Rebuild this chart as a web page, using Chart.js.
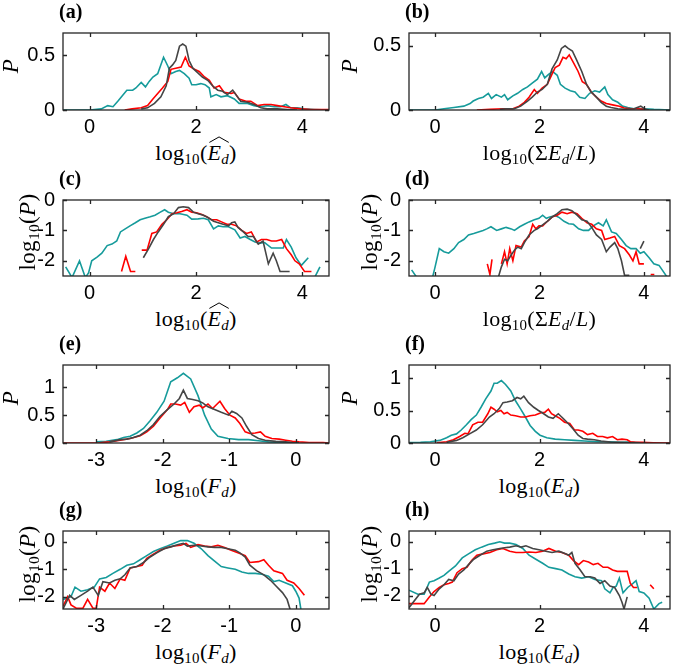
<!DOCTYPE html>
<html lang="en">
<head>
  <meta charset="UTF-8" />
  <title>Distributions</title>
  <script src="https://cdn.jsdelivr.net/npm/chart.js"></script>
  <style>
    body { margin: 0; background: #fff; }
    #page { position: relative; width: 675px; height: 665px; overflow: hidden; }
    canvas { position: absolute; }
    .lbl { position: absolute; font-family: 'Liberation Serif', 'DejaVu Serif', serif; color: #000; white-space: nowrap; line-height: 1; }
    .tag { font-weight: bold; font-size: 20px; }
    .xt { font-size: 22px; transform: translateX(-50%); letter-spacing: 0.3px; }
    .yt { font-size: 23px; transform: translate(-50%, -50%) rotate(-90deg); letter-spacing: 0.3px; }
    sub { font-size: 0.68em; vertical-align: -0.3em; line-height: 0; }
    .hat { position: relative; display: inline-block; }
    .hat svg { position: absolute; left: 1px; top: -6px; width: 100%; height: 7px; }
  </style>
</head>
<body>
<div id="page"></div>

<script>
  // ---- data: [x, y] pairs, null = gap ----
  const aTeal = [[-0.5,0],[0,0],[0.22,0.01],[0.34,0.04],[0.44,0.03],[0.53,0.08],[0.7,0.18],[0.81,0.18],[0.87,0.2],[0.97,0.25],[1.05,0.21],[1.12,0.26],[1.19,0.3],[1.28,0.33],[1.39,0.48],[1.47,0.4],[1.53,0.33],[1.62,0.35],[1.69,0.36],[1.78,0.33],[1.87,0.29],[1.92,0.23],[2.0,0.23],[2.09,0.24],[2.17,0.23],[2.25,0.2],[2.28,0.12],[2.38,0.14],[2.47,0.12],[2.59,0.13],[2.72,0.1],[2.81,0.06],[2.97,0.06],[3.09,0.04],[3.22,0.03],[3.34,0.04],[3.47,0.03],[3.59,0.03],[3.69,0.05],[3.78,0.02],[3.9,0.02],[4.03,0.01],[4.22,0.005],[4.5,0]];
  const aRed = [[0.66,0],[0.8,0.01],[0.97,0.02],[1.09,0.04],[1.19,0.1],[1.28,0.15],[1.37,0.2],[1.47,0.26],[1.53,0.37],[1.62,0.38],[1.72,0.39],[1.8,0.48],[1.87,0.4],[1.97,0.37],[2.06,0.35],[2.16,0.3],[2.25,0.27],[2.34,0.2],[2.44,0.22],[2.53,0.16],[2.66,0.15],[2.72,0.16],[2.81,0.1],[2.94,0.08],[3.03,0.08],[3.16,0.04],[3.28,0.05],[3.41,0.05],[3.53,0.04],[3.66,0.03],[3.78,0.02],[3.97,0.01],[4.16,0.005],[4.5,0.005]];
  const aGray = [[0.97,0.01],[1.09,0.02],[1.22,0.06],[1.34,0.12],[1.44,0.22],[1.5,0.38],[1.56,0.41],[1.62,0.45],[1.69,0.58],[1.75,0.6],[1.81,0.58],[1.87,0.45],[1.94,0.38],[2.03,0.34],[2.12,0.3],[2.22,0.27],[2.31,0.22],[2.41,0.18],[2.5,0.17],[2.59,0.14],[2.69,0.18],[2.75,0.14],[2.84,0.08],[2.97,0.07],[3.09,0.05],[3.22,0.02],[3.34,0.01],[3.53,0.01],[3.72,0.005],[3.9,0]];

  const bTeal = [[-0.5,0],[0,0],[0.17,0.01],[0.36,0.02],[0.55,0.03],[0.67,0.05],[0.73,0.07],[0.83,0.09],[0.92,0.1],[1.02,0.13],[1.08,0.09],[1.17,0.12],[1.27,0.1],[1.33,0.12],[1.39,0.08],[1.49,0.11],[1.58,0.13],[1.68,0.16],[1.77,0.18],[1.86,0.21],[1.96,0.24],[2.04,0.3],[2.1,0.25],[2.18,0.28],[2.25,0.3],[2.34,0.27],[2.4,0.2],[2.49,0.17],[2.59,0.15],[2.68,0.14],[2.77,0.1],[2.87,0.09],[2.96,0.13],[3.06,0.15],[3.15,0.14],[3.25,0.18],[3.31,0.12],[3.4,0.08],[3.5,0.06],[3.59,0.03],[3.69,0.02],[3.81,0.01],[4.0,0.01],[4.19,0.005],[4.5,0]];
  const bRed = [[0.8,0],[1.05,0.005],[1.3,0.01],[1.49,0.01],[1.61,0.03],[1.71,0.06],[1.8,0.1],[1.9,0.16],[1.96,0.13],[2.05,0.17],[2.15,0.2],[2.24,0.28],[2.3,0.33],[2.38,0.35],[2.45,0.41],[2.51,0.4],[2.57,0.43],[2.65,0.37],[2.74,0.3],[2.82,0.22],[2.9,0.2],[2.99,0.14],[3.09,0.1],[3.18,0.07],[3.28,0.05],[3.4,0.04],[3.53,0.03],[3.62,0.015],[3.75,0.01],[3.87,0.01],[4.0,0.005],[4.1,0]];
  const bGray = [[1.24,0.005],[1.36,0.01],[1.52,0.01],[1.64,0.03],[1.77,0.07],[1.86,0.1],[1.96,0.14],[2.05,0.16],[2.15,0.2],[2.24,0.32],[2.34,0.39],[2.42,0.48],[2.49,0.5],[2.55,0.48],[2.63,0.46],[2.71,0.39],[2.81,0.3],[2.9,0.2],[2.99,0.14],[3.09,0.1],[3.18,0.06],[3.28,0.03],[3.37,0.02],[3.5,0.01],[3.62,0.005],[3.81,0.01],[3.94,0.03],[4.03,0.005],[4.1,0]];

  const cTeal = [[-0.45,-2.2],[-0.33,-2.55],[-0.19,-2.0],[-0.08,-2.55],[-0.02,-2.4],[0.04,-2.0],[0.14,-1.88],[0.23,-1.75],[0.33,-1.5],[0.42,-1.45],[0.51,-1.35],[0.58,-1.05],[0.67,-0.95],[0.76,-0.85],[0.86,-0.75],[0.95,-0.65],[1.04,-0.6],[1.14,-0.55],[1.23,-0.5],[1.33,-0.4],[1.41,-0.32],[1.48,-0.4],[1.58,-0.45],[1.7,-0.45],[1.83,-0.5],[1.92,-0.63],[2.04,-0.62],[2.14,-0.6],[2.23,-0.65],[2.33,-0.95],[2.42,-0.85],[2.51,-0.88],[2.61,-0.88],[2.73,-0.98],[2.83,-1.25],[2.92,-1.2],[3.02,-1.3],[3.11,-1.38],[3.2,-1.42],[3.29,-1.4],[3.42,-1.58],[3.54,-1.58],[3.64,-1.58],[3.7,-1.3],[3.79,-1.55],[3.88,-1.9],[3.98,-2.15],[4.11,-1.9],[4.17,null],[4.23,-2.55],[4.33,-2.2]];
  const cRed = [[0.6,-2.35],[0.68,-1.85],[0.77,-2.35],[0.86,-2.35],[0.92,null],[0.98,-1.65],[1.08,-1.65],[1.17,-1.1],[1.26,-1.05],[1.36,-0.8],[1.45,-0.65],[1.55,-0.45],[1.64,-0.42],[1.73,-0.38],[1.83,-0.32],[1.92,-0.4],[2.01,-0.42],[2.11,-0.48],[2.2,-0.55],[2.29,-0.65],[2.39,-0.65],[2.48,-0.72],[2.58,-0.8],[2.67,-0.8],[2.76,-0.85],[2.86,-1.0],[2.95,-1.1],[3.04,-1.05],[3.14,-1.38],[3.23,-1.3],[3.33,-1.3],[3.42,-1.35],[3.51,-1.35],[3.61,-1.3],[3.7,-1.6],[3.79,-1.8],[3.86,-2.0],[3.94,-2.1],[3.98,-2.2],[4.04,-2.35],[4.17,-2.35]];
  const cGray = [[1.01,-1.9],[1.11,-1.6],[1.2,-1.3],[1.29,-1.05],[1.39,-0.8],[1.48,-0.55],[1.58,-0.45],[1.67,-0.25],[1.76,-0.22],[1.86,-0.25],[1.95,-0.4],[2.04,-0.45],[2.14,-0.5],[2.23,-0.58],[2.33,-0.7],[2.42,-0.75],[2.51,-0.8],[2.61,-0.85],[2.67,-0.75],[2.73,-0.72],[2.79,-0.9],[2.89,-1.05],[2.98,-1.2],[3.08,-1.2],[3.17,-1.45],[3.26,-1.35],[3.36,-2.1],[3.45,-1.75],[3.51,-2.0],[3.58,-2.35],[3.67,-2.35],[3.76,-2.35]];

  const dTeal = [[-0.45,-2.3],[-0.35,-2.55],[-0.2,null],[-0.05,-2.55],[0,-2.2],[0.08,-1.6],[0.17,-1.7],[0.26,-1.75],[0.36,-1.6],[0.45,-1.4],[0.55,-1.3],[0.64,-1.15],[0.74,-1.1],[0.83,-1.05],[0.92,-1.0],[0.99,-0.95],[1.07,-0.88],[1.18,-1.0],[1.27,-0.95],[1.36,-0.9],[1.46,-0.95],[1.52,-1.0],[1.62,-0.88],[1.71,-0.8],[1.8,-0.72],[1.9,-0.65],[1.99,-0.6],[2.06,-0.5],[2.13,-0.6],[2.21,-0.55],[2.31,-0.52],[2.38,-0.58],[2.47,-0.7],[2.56,-0.78],[2.65,-0.8],[2.75,-0.95],[2.84,-1.0],[2.94,-1.0],[3.03,-0.85],[3.13,-0.75],[3.22,-0.85],[3.28,-0.65],[3.38,-1.05],[3.47,-1.1],[3.57,-1.3],[3.66,-1.5],[3.75,-1.6],[3.85,-1.6],[3.93,-1.75],[4.0,-1.7],[4.1,-1.9],[4.19,-2.1],[4.29,-2.15],[4.35,-2.3],[4.45,-2.55]];
  const dRed = [[1.0,-2.1],[1.05,-2.45],[1.09,-1.95],[1.15,null],[1.27,-2.1],[1.33,-1.7],[1.38,-2.1],[1.43,-1.6],[1.49,-2.0],[1.55,-1.5],[1.65,-1.55],[1.71,-1.35],[1.8,-1.2],[1.87,-0.8],[1.93,-0.95],[1.99,-0.85],[2.06,-0.85],[2.15,-0.7],[2.25,-0.55],[2.34,-0.5],[2.43,-0.4],[2.53,-0.45],[2.62,-0.4],[2.72,-0.45],[2.81,-0.6],[2.91,-0.75],[3.0,-0.8],[3.09,-0.95],[3.19,-1.0],[3.25,-1.3],[3.35,-1.25],[3.44,-1.2],[3.53,-1.5],[3.63,-1.6],[3.72,-1.8],[3.79,-2.0],[3.85,-1.7],[3.91,-2.1],[4.0,-2.1],[4.06,null],[4.13,-2.45],[4.2,-2.45]];
  const dGray = [[1.21,-2.55],[1.27,-2.2],[1.33,-1.95],[1.39,-2.0],[1.46,-1.8],[1.52,-1.65],[1.58,-1.55],[1.65,-1.6],[1.71,-1.4],[1.8,-1.15],[1.9,-1.0],[1.96,-0.95],[2.06,-0.82],[2.15,-0.7],[2.25,-0.55],[2.34,-0.45],[2.43,-0.32],[2.53,-0.3],[2.62,-0.35],[2.72,-0.5],[2.81,-0.65],[2.91,-0.7],[3.0,-0.9],[3.09,-1.15],[3.19,-1.3],[3.28,-1.7],[3.35,-1.55],[3.44,-1.4],[3.5,-1.6],[3.57,-2.0],[3.63,-2.48],[3.72,-2.48],[3.8,null],[3.93,-1.6],[4.0,-1.35]];

  const eTeal = [[-3.0,0.02],[-2.85,0.03],[-2.69,0.06],[-2.59,0.1],[-2.49,0.12],[-2.39,0.18],[-2.29,0.26],[-2.19,0.4],[-2.09,0.55],[-1.98,0.75],[-1.88,1.1],[-1.78,1.17],[-1.69,1.25],[-1.58,1.15],[-1.47,0.85],[-1.37,0.5],[-1.27,0.25],[-1.17,0.12],[-1.02,0.08],[-0.86,0.06],[-0.71,0.06],[-0.56,0.04],[-0.41,0.02],[-0.25,0.01],[-0.1,0.005],[0,0]];
  const eRed = [[-3.5,0],[-2.95,0.005],[-2.8,0.02],[-2.64,0.05],[-2.49,0.08],[-2.34,0.13],[-2.24,0.2],[-2.14,0.3],[-2.04,0.45],[-1.93,0.6],[-1.88,0.7],[-1.81,0.7],[-1.73,0.68],[-1.67,0.73],[-1.6,0.55],[-1.53,0.65],[-1.45,0.68],[-1.4,0.63],[-1.32,0.7],[-1.25,0.62],[-1.14,0.75],[-1.07,0.62],[-0.99,0.5],[-0.91,0.45],[-0.84,0.35],[-0.76,0.2],[-0.69,0.17],[-0.61,0.18],[-0.53,0.2],[-0.46,0.12],[-0.36,0.08],[-0.25,0.07],[-0.15,0.05],[-0.05,0.03],[0.05,0.02],[0.2,0.01],[0.41,0.01],[0.5,0]];
  const eGray = [[-2.8,0.02],[-2.64,0.06],[-2.54,0.07],[-2.44,0.1],[-2.34,0.14],[-2.24,0.22],[-2.14,0.33],[-2.04,0.48],[-1.93,0.6],[-1.83,0.7],[-1.75,0.8],[-1.69,0.95],[-1.63,0.8],[-1.55,0.78],[-1.47,0.76],[-1.4,0.72],[-1.32,0.65],[-1.22,0.6],[-1.12,0.55],[-1.01,0.5],[-0.96,0.57],[-0.89,0.53],[-0.81,0.45],[-0.74,0.3],[-0.66,0.15],[-0.56,0.08],[-0.46,0.05],[-0.3,0.03],[-0.15,0.02],[-0.05,0.01],[0.05,0.005]];

  const fTeal = [[-0.5,0.005],[-0.28,0.01],[-0.09,0.02],[0.09,0.04],[0.22,0.08],[0.31,0.12],[0.41,0.14],[0.5,0.2],[0.6,0.28],[0.69,0.36],[0.79,0.43],[0.88,0.55],[0.97,0.68],[1.07,0.8],[1.13,0.92],[1.19,0.92],[1.27,0.96],[1.35,0.9],[1.45,0.8],[1.54,0.65],[1.64,0.52],[1.73,0.4],[1.82,0.27],[1.92,0.18],[2.01,0.12],[2.14,0.08],[2.3,0.06],[2.48,0.05],[2.67,0.04],[2.86,0.03],[3.11,0.02],[3.36,0.02],[3.55,0.01],[3.68,0.015],[3.8,0.01],[3.93,0.005]];
  const fRed = [[0.03,0.005],[0.22,0.02],[0.35,0.05],[0.47,0.1],[0.57,0.15],[0.63,0.14],[0.72,0.28],[0.82,0.32],[0.91,0.32],[1.01,0.45],[1.07,0.55],[1.13,0.52],[1.19,0.48],[1.26,0.5],[1.32,0.45],[1.38,0.47],[1.45,0.43],[1.54,0.42],[1.64,0.4],[1.73,0.4],[1.82,0.42],[1.92,0.43],[1.98,0.45],[2.04,0.47],[2.1,0.47],[2.17,0.52],[2.23,0.45],[2.3,0.42],[2.39,0.38],[2.48,0.32],[2.58,0.3],[2.67,0.2],[2.74,0.2],[2.83,0.18],[2.92,0.13],[3.02,0.15],[3.11,0.1],[3.21,0.1],[3.3,0.08],[3.4,0.1],[3.49,0.05],[3.58,0.06],[3.68,0.05],[3.74,0.02],[3.84,0.01],[3.96,0.01],[4.18,0.005],[4.5,0]];
  const fGray = [[0.22,0.01],[0.41,0.04],[0.53,0.08],[0.66,0.14],[0.79,0.2],[0.91,0.28],[1.04,0.4],[1.13,0.45],[1.23,0.53],[1.3,0.62],[1.38,0.63],[1.48,0.65],[1.57,0.7],[1.64,0.68],[1.7,0.72],[1.79,0.62],[1.89,0.55],[1.98,0.5],[2.08,0.45],[2.17,0.4],[2.26,0.38],[2.36,0.45],[2.45,0.38],[2.55,0.3],[2.64,0.22],[2.74,0.12],[2.83,0.07],[2.92,0.06],[3.05,0.05],[3.18,0.03],[3.36,0.015],[3.55,0.01],[3.74,0.005],[3.93,0]];

  const gTeal = [[-3.5,-2.1],[-3.43,-2.05],[-3.38,-2.0],[-3.32,-1.65],[-3.23,-1.8],[-3.13,-1.75],[-3.03,-1.65],[-2.95,-1.35],[-2.85,-1.3],[-2.75,-1.15],[-2.64,-1.0],[-2.54,-0.85],[-2.44,-0.8],[-2.34,-0.65],[-2.24,-0.5],[-2.14,-0.35],[-2.04,-0.25],[-1.93,-0.15],[-1.83,-0.05],[-1.73,0.05],[-1.63,0.05],[-1.53,-0.05],[-1.42,-0.25],[-1.32,-0.5],[-1.22,-0.7],[-1.12,-0.9],[-1.02,-0.95],[-0.91,-1.0],[-0.81,-1.1],[-0.71,-1.15],[-0.61,-1.15],[-0.51,-1.18],[-0.41,-1.25],[-0.33,-1.45],[-0.25,-1.4],[-0.15,-1.5],[-0.05,-1.6],[0,-1.8],[0.05,-2.05],[0.08,-2.5]];
  const gRed = [[-3.5,-2.35],[-3.43,-2.0],[-3.38,-2.3],[-3.3,-2.42],[-3.2,-2.42],[-3.13,-2.1],[-3.05,-2.42],[-3.0,-2.42],[-2.95,-1.65],[-2.87,-1.8],[-2.8,-1.5],[-2.72,-1.7],[-2.64,-1.35],[-2.57,-1.4],[-2.49,-0.95],[-2.39,-0.9],[-2.31,-0.85],[-2.24,-0.6],[-2.14,-0.45],[-2.04,-0.3],[-1.93,-0.2],[-1.83,-0.15],[-1.73,-0.12],[-1.65,-0.05],[-1.58,-0.2],[-1.47,-0.1],[-1.37,-0.15],[-1.27,-0.18],[-1.17,-0.12],[-1.07,-0.2],[-0.97,-0.3],[-0.86,-0.4],[-0.76,-0.5],[-0.69,-0.75],[-0.56,-0.72],[-0.48,-0.65],[-0.41,-0.85],[-0.33,-1.05],[-0.2,-1.15],[-0.13,-1.4],[-0.03,-1.5],[0.05,-1.7],[0.13,-1.95]];
  const gGray = [[-3.5,-2.45],[-3.4,-1.95],[-3.33,-2.1],[-3.23,-1.95],[-3.13,-1.8],[-3.05,-1.65],[-2.97,-1.95],[-2.9,-1.45],[-2.8,-1.5],[-2.72,-1.4],[-2.64,-1.35],[-2.57,-1.2],[-2.49,-0.95],[-2.39,-0.9],[-2.29,-0.75],[-2.19,-0.55],[-2.09,-0.4],[-1.98,-0.25],[-1.88,-0.18],[-1.78,-0.1],[-1.69,-0.05],[-1.63,-0.15],[-1.53,-0.12],[-1.42,-0.15],[-1.32,-0.18],[-1.22,-0.2],[-1.12,-0.2],[-1.02,-0.25],[-0.91,-0.3],[-0.84,-0.4],[-0.76,-0.55],[-0.69,-0.85],[-0.59,-1.05],[-0.48,-1.2],[-0.38,-1.4],[-0.3,-1.6],[-0.2,-1.85],[-0.13,-2.1],[-0.08,-2.5]];

  const hTeal = [[-0.5,-1.8],[-0.33,-1.95],[-0.21,-1.95],[-0.11,-1.5],[-0.02,-1.45],[0.08,-1.35],[0.17,-1.25],[0.26,-1.1],[0.39,-0.9],[0.52,-0.6],[0.64,-0.45],[0.77,-0.3],[0.89,-0.2],[1.02,-0.1],[1.14,-0.05],[1.24,0.0],[1.33,-0.05],[1.43,-0.05],[1.55,-0.1],[1.68,-0.25],[1.8,-0.5],[1.93,-0.65],[2.06,-0.8],[2.18,-0.95],[2.31,-1.0],[2.43,-1.05],[2.56,-1.2],[2.68,-1.3],[2.81,-1.35],[2.94,-1.3],[3.06,-1.4],[3.19,-1.45],[3.25,-1.75],[3.35,-1.9],[3.41,-1.7],[3.47,-1.65],[3.53,-1.35],[3.6,-1.9],[3.69,-1.7],[3.79,-1.55],[3.85,-1.45],[3.91,-1.85],[4.0,-1.9],[4.1,-2.1],[4.19,-2.5],[4.29,-2.3],[4.35,-2.25]];
  const hRed = [[-0.5,-2.3],[-0.21,-2.3],[-0.11,-2.05],[-0.02,-1.85],[0.08,-1.7],[0.17,-1.6],[0.26,-1.55],[0.33,-1.5],[0.42,-1.15],[0.52,-1.0],[0.61,-0.95],[0.7,-0.7],[0.8,-0.5],[0.92,-0.45],[1.05,-0.4],[1.18,-0.3],[1.3,-0.25],[1.43,-0.35],[1.55,-0.4],[1.68,-0.4],[1.8,-0.38],[1.93,-0.4],[2.06,-0.35],[2.18,-0.25],[2.31,-0.35],[2.43,-0.4],[2.56,-0.5],[2.65,-0.7],[2.75,-0.85],[2.84,-0.7],[2.94,-0.75],[3.03,-0.85],[3.12,-0.8],[3.22,-0.95],[3.31,-0.95],[3.4,-1.05],[3.49,-1.1],[3.58,-1.1],[3.68,-1.1],[3.74,-1.55],[3.8,-1.7],[3.87,-1.7],[4.0,null],[4.12,-1.6],[4.19,-1.75]];
  const hGray = [[-0.5,-2.45],[-0.3,-1.95],[-0.21,-1.9],[-0.15,-1.7],[-0.08,-1.95],[-0.02,-2.0],[0.08,-1.75],[0.17,-1.6],[0.26,-1.4],[0.36,-1.45],[0.45,-1.2],[0.55,-1.05],[0.64,-0.85],[0.74,-0.65],[0.86,-0.5],[0.99,-0.35],[1.11,-0.3],[1.24,-0.25],[1.33,-0.22],[1.43,-0.2],[1.55,-0.15],[1.65,-0.2],[1.74,-0.15],[1.87,-0.25],[1.99,-0.3],[2.12,-0.35],[2.24,-0.4],[2.37,-0.35],[2.5,-0.45],[2.56,-0.5],[2.62,-0.4],[2.68,-0.8],[2.78,-1.05],[2.87,-1.3],[2.97,-1.3],[3.06,-1.35],[3.16,-1.55],[3.25,-1.45],[3.35,-1.65],[3.44,-1.7],[3.53,-2.0],[3.58,-2.25],[3.62,-2.5],[3.68,-2.05]];

  // tick values
  const ticksE = [0, 2, 4];
  const ticksF = [-3, -2, -1, 0];
  const ticksPa = [0, 0.5];
  const ticksPe = [0, 0.5, 1];
  const ticksLog = [-2, -1, 0];

  const TEAL = '#169b9b', RED = '#ff0000', GRAY = '#454545', AXIS = '#262626';

  // ---- layout ----
  const colLeft = [0, 335], colWidth = [335, 340];
  const boxLeft = [63, 409], boxRight = [329, 670];
  const rowTop = [21, 188, 353, 519], rowBottom = [110, 276, 443, 609];

  const EHAT = '<span class="hat"><i>E</i><sub><i>d</i></sub><svg viewBox="0 0 20 6" preserveAspectRatio="none"><polyline points="1,5.5 10,0.8 19,5.5" fill="none" stroke="#000" stroke-width="1" vector-effect="non-scaling-stroke"/></svg></span>';
  const XT = {
    ehat: 'log<sub>10</sub>(' + EHAT + ')',
    sum: 'log<sub>10</sub>(Σ<i>E</i><sub><i>d</i></sub>/<i>L</i>)',
    fd: 'log<sub>10</sub>(<i>F</i><sub><i>d</i></sub>)',
    ed: 'log<sub>10</sub>(<i>E</i><sub><i>d</i></sub>)'
  };
  const YT = { p: '<i>P</i>', logp: 'log<sub>10</sub>(<i>P</i>)' };

  const panels = [
    { tag: '(a)', col: 0, row: 0, series: [aTeal, aRed, aGray], x: [-0.5, 4.5], y: [0, 0.7], xt: ticksE, yt: ticksPa, xl: XT.ehat, yl: YT.p },
    { tag: '(b)', col: 1, row: 0, series: [bTeal, bRed, bGray], x: [-0.5, 4.5], y: [0, 0.6], xt: ticksE, yt: ticksPa, xl: XT.sum, yl: YT.p },
    { tag: '(c)', col: 0, row: 1, series: [cTeal, cRed, cGray], x: [-0.5, 4.5], y: [-2.5, 0], xt: ticksE, yt: ticksLog, xl: XT.ehat, yl: YT.logp },
    { tag: '(d)', col: 1, row: 1, series: [dTeal, dRed, dGray], x: [-0.5, 4.5], y: [-2.5, 0], xt: ticksE, yt: ticksLog, xl: XT.sum, yl: YT.logp },
    { tag: '(e)', col: 0, row: 2, series: [eTeal, eRed, eGray], x: [-3.5, 0.5], y: [0, 1.4], xt: ticksF, yt: ticksPe, xl: XT.fd, yl: YT.p },
    { tag: '(f)', col: 1, row: 2, series: [fTeal, fRed, fGray], x: [-0.5, 4.5], y: [0, 1.2], xt: ticksE, yt: ticksPe, xl: XT.ed, yl: YT.p },
    { tag: '(g)', col: 0, row: 3, series: [gTeal, gRed, gGray], x: [-3.5, 0.5], y: [-2.45, 0.4], xt: ticksF, yt: ticksLog, xl: XT.fd, yl: YT.logp },
    { tag: '(h)', col: 1, row: 3, series: [hTeal, hRed, hGray], x: [-0.5, 4.5], y: [-2.5, 0.4], xt: ticksE, yt: ticksLog, xl: XT.ed, yl: YT.logp }
  ];

  // box + inward tick marks, MATLAB style
  const boxPlugin = {
    id: 'box',
    afterDatasetsDraw(chart) {
      const { ctx, chartArea: a, scales: { x, y } } = chart;
      ctx.save();
      ctx.strokeStyle = AXIS;
      ctx.lineWidth = 1.3;
      ctx.beginPath();
      x.ticks.forEach(t => {
        const px = Math.round(x.getPixelForValue(t.value)) + 0.5;
        ctx.moveTo(px, a.bottom); ctx.lineTo(px, a.bottom - 4);
        ctx.moveTo(px, a.top); ctx.lineTo(px, a.top + 4);
      });
      y.ticks.forEach(t => {
        const py = Math.round(y.getPixelForValue(t.value)) + 0.5;
        ctx.moveTo(a.left, py); ctx.lineTo(a.left + 4, py);
        ctx.moveTo(a.right, py); ctx.lineTo(a.right - 4, py);
      });
      ctx.stroke();
      ctx.strokeRect(a.left, a.top, a.right - a.left, a.bottom - a.top);
      ctx.restore();
    }
  };

  const page = document.getElementById('page');
  const tickFont = { family: "'Liberation Sans', Arial, sans-serif", size: 20 };

  function addLabel(html, cls, left, top) {
    const d = document.createElement('div');
    d.className = 'lbl ' + cls;
    d.style.left = left + 'px';
    d.style.top = top + 'px';
    d.innerHTML = html;
    page.appendChild(d);
  }

  panels.forEach(p => {
    const padTop = 8, xAxisH = 30;
    const cl = colLeft[p.col], cw = colWidth[p.col];
    const bt = rowTop[p.row], bb = rowBottom[p.row];
    const ch = (bb - bt) + padTop + xAxisH;

    const canvas = document.createElement('canvas');
    canvas.width = cw; canvas.height = ch;
    canvas.style.left = cl + 'px';
    canvas.style.top = (bt - padTop) + 'px';
    page.appendChild(canvas);

    const colors = [TEAL, RED, GRAY];
    const datasets = p.series.map((s, i) => ({
      data: s.map(([x, y]) => ({ x, y })),
      borderColor: colors[i],
      borderWidth: 1.6,
      pointRadius: 0,
      tension: 0,
      spanGaps: false,
      clip: 0,
      order: 2 - i
    }));

    new Chart(canvas, {
      type: 'line',
      data: { datasets },
      options: {
        responsive: false,
        animation: false,
        events: [],
        layout: { padding: { top: padTop, right: cw - (boxRight[p.col] - cl), left: 0, bottom: 0 } },
        plugins: { legend: { display: false }, tooltip: { enabled: false } },
        scales: {
          x: {
            type: 'linear', min: p.x[0], max: p.x[1],
            grid: { display: false, drawTicks: false },
            border: { display: false },
            ticks: { font: tickFont, color: '#000', padding: 5, autoSkip: false, maxRotation: 0, callback: v => String(v) },
            afterBuildTicks: s => { s.ticks = p.xt.map(v => ({ value: v })); },
            afterFit: s => { s.height = xAxisH; }
          },
          y: {
            type: 'linear', min: p.y[0], max: p.y[1],
            grid: { display: false, drawTicks: false },
            border: { display: false },
            ticks: { font: tickFont, color: '#000', padding: 8, autoSkip: false, callback: v => String(v) },
            afterBuildTicks: s => { s.ticks = p.yt.map(v => ({ value: v })); },
            afterFit: s => { s.width = boxLeft[p.col] - cl; }
          }
        }
      },
      plugins: [boxPlugin]
    });

    // panel tag, axis titles
    addLabel(p.tag, 'tag', boxLeft[p.col] - 4, bt - 20);
    addLabel(p.xl, 'xt', (boxLeft[p.col] + boxRight[p.col]) / 2, bb + 32);
    const ylx = p.yl === YT.p ? (p.col ? 349 : 10) : (p.col ? 369 : 27);
    addLabel(p.yl, 'yt', ylx, (bt + bb) / 2);
  });
</script>
</body>
</html>
